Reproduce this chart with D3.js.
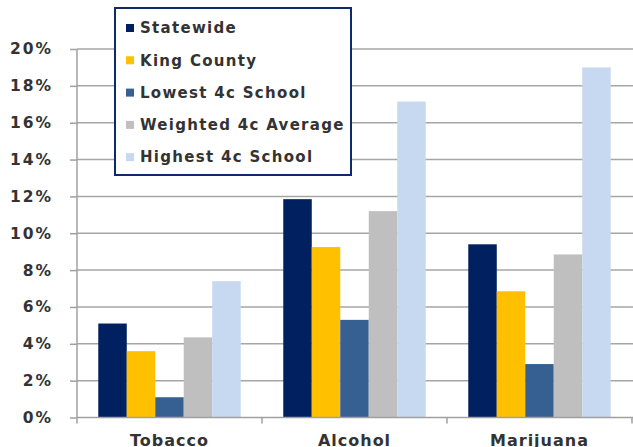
<!DOCTYPE html>
<html>
<head>
  <title>Substance use</title>
  <style>
    body { margin: 0; background: #fff; }
    text { font-family: "DejaVu Sans", Verdana, sans-serif; font-weight: bold; fill: #333; }
  </style>
</head>
<body>
  <svg id="main" width="633" height="447"></svg>

  <script src="https://cdn.jsdelivr.net/npm/d3@7.0.1/dist/d3.min.js"></script>
  <script>
    const categories = ['Tobacco', 'Alcohol', 'Marijuana']
    const seriesNames = ['Statewide', 'King County', 'Lowest 4c School', 'Weighted 4c Average', 'Highest 4c School']
    const statewide = [5.1, 11.85, 9.4]
    const kingCounty = [3.6, 9.25, 6.85]
    const lowest = [1.1, 5.3, 2.9]
    const weighted = [4.35, 11.2, 8.85]
    const highest = [7.4, 17.15, 19.0]
    const yTicks = [0, 2, 4, 6, 8, 10, 12, 14, 16, 18, 20]
    const colors = ['#00205f', '#ffc000', '#366092', '#bfbfbf', '#c6d9f1']

    const seriesValues = [statewide, kingCounty, lowest, weighted, highest]
    const data = categories.map((c, i) => ({
      cat: c,
      values: seriesNames.map((s, j) => ({ name: s, value: seriesValues[j][i], idx: j }))
    }))

    const svg = d3.select('#main')
    const margin = { top: 49, left: 77, right: 1, bottom: 29.5 }
    const innerWidth = 633 - margin.left - margin.right
    const innerHeight = 447 - margin.top - margin.bottom

    const g = svg.append('g')
      .attr('transform', `translate(${margin.left}, ${margin.top})`)

    const x0 = d3.scaleBand().domain(categories).range([0, innerWidth])
    const gap = x0.bandwidth() * 0.115
    const x1 = d3.scaleBand().domain(seriesNames).range([gap, x0.bandwidth() - gap])
    const y = d3.scaleLinear().domain([0, 20]).range([innerHeight, 0])

    // gridlines
    g.selectAll('.grid').data(yTicks.slice(1))
      .join('line')
      .attr('class', 'grid')
      .attr('x1', 0).attr('x2', innerWidth + 2)
      .attr('y1', d => y(d)).attr('y2', d => y(d))
      .attr('stroke', '#a6a6a6').attr('stroke-width', 1.5)

    // bars
    g.selectAll('.cat').data(data)
      .join('g')
      .attr('class', 'cat')
      .attr('transform', d => `translate(${x0(d.cat)}, 0)`)
      .selectAll('rect').data(d => d.values)
      .join('rect')
      .attr('x', d => x1(d.name))
      .attr('width', x1.bandwidth())
      .attr('y', d => y(d.value))
      .attr('height', d => innerHeight - y(d.value))
      .attr('fill', d => colors[d.idx])

    // y axis
    const yAxis = d3.axisLeft(y).tickValues(yTicks).tickFormat(d => d + '%')
      .tickSizeInner(7).tickSizeOuter(0).tickPadding(17)
    const ya = g.append('g').call(yAxis)
    ya.select('.domain').attr('stroke', '#a0a0a0').attr('stroke-width', 1.5)
      .attr('d', `M0,0V${innerHeight + 6}`)
    ya.selectAll('.tick line').attr('stroke', '#a0a0a0').attr('stroke-width', 1.5)
    ya.selectAll('.tick text')
      .attr('font-family', '"DejaVu Sans", Verdana, sans-serif')
      .attr('font-weight', 'bold')
      .attr('font-size', 15.5).attr('fill', '#333')
      .style('letter-spacing', '2px')

    // x axis
    const xa = g.append('g').attr('transform', `translate(0, ${innerHeight})`)
    xa.append('line').attr('x1', 0).attr('x2', innerWidth + 2)
      .attr('stroke', '#a0a0a0').attr('stroke-width', 1.5)
    xa.selectAll('.xt').data(categories)
      .join('line')
      .attr('class', 'xt')
      .attr('x1', d => x0(d) + x0.bandwidth()).attr('x2', d => x0(d) + x0.bandwidth())
      .attr('y1', 0).attr('y2', 6)
      .attr('stroke', '#a0a0a0').attr('stroke-width', 1.5)
    xa.selectAll('.xl').data(categories)
      .join('text')
      .attr('class', 'xl')
      .attr('x', d => x0(d) + x0.bandwidth() / 2)
      .attr('y', 28)
      .attr('text-anchor', 'middle')
      .attr('font-size', 16)
      .style('letter-spacing', '1px')
      .text(d => d)

    // legend
    const legend = svg.append('g').attr('transform', 'translate(114, 7)')
    legend.append('rect')
      .attr('x', 1).attr('y', 1).attr('width', 236).attr('height', 167)
      .attr('fill', '#fff').attr('stroke', '#0d2a6b').attr('stroke-width', 2)
    const items = legend.selectAll('.item').data(seriesNames)
      .join('g')
      .attr('class', 'item')
      .attr('transform', (d, i) => `translate(12, ${21 + i * 32.3})`)
    items.append('rect')
      .attr('x', 0).attr('y', -4).attr('width', 8).attr('height', 8)
      .attr('fill', (d, i) => colors[i])
    items.append('text')
      .attr('x', 14).attr('dy', '0.35em')
      .attr('font-size', 15)
      .style('letter-spacing', '1.3px')
      .text(d => d)
  </script>
</body>
</html>
